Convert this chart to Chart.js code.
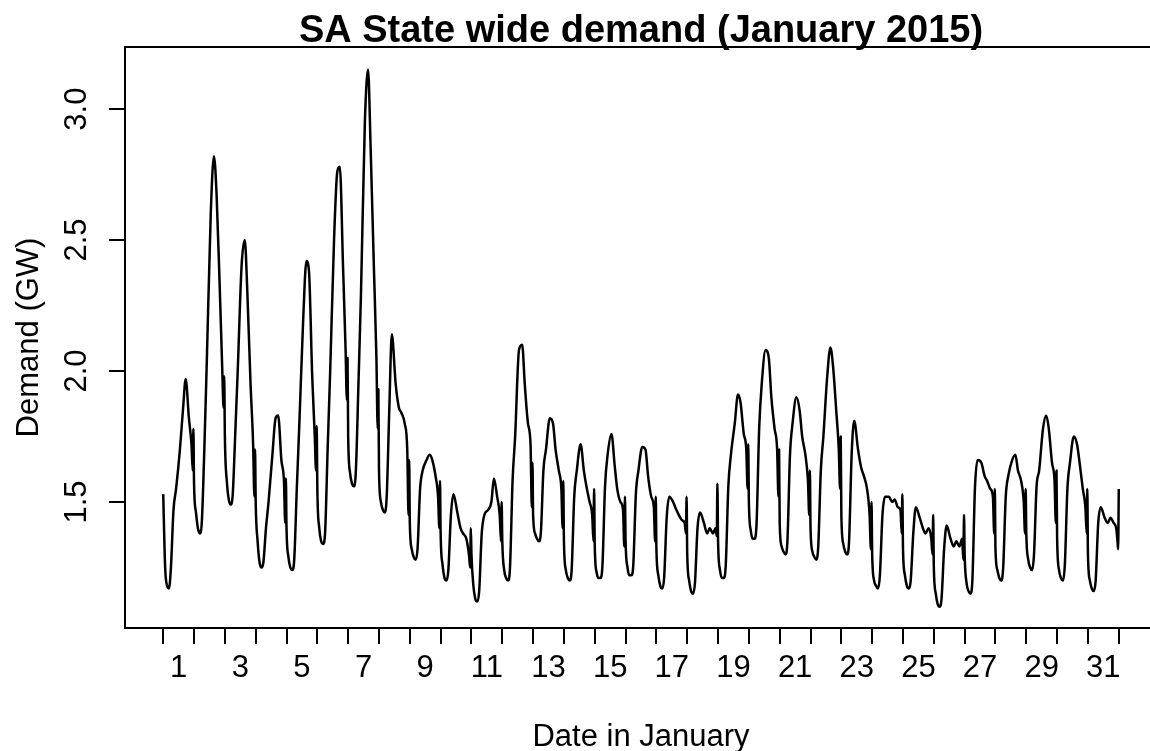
<!DOCTYPE html>
<html>
<head>
<meta charset="utf-8">
<script src="https://cdn.jsdelivr.net/npm/chart.js@4.4.1/dist/chart.umd.min.js"></script>
<style>
  html, body { margin: 0; padding: 0; background: #fff; overflow: hidden; }
  #wrap { position: absolute; left: 0; top: 0; width: 1180px; height: 751px; }
</style>
</head>
<body>
<div id="wrap"><canvas id="demand" width="1180" height="751"></canvas></div>
<script>
const sampleHours = [0, 1.5, 3, 4.5, 6, 8, 10, 13, 15.5, 17.5, 20, 22, 23, 23.5];

// demand (GW), one row per day of January 2015, in sampleHours order
const demand = [
  1.53, 1.25, 1.18, 1.17, 1.25, 1.47, 1.55, 1.70, 1.86, 1.97, 1.82, 1.72, 1.62, 1.78, // 1
  1.57, 1.46, 1.40, 1.38, 1.42, 1.70, 2.05, 2.60, 2.82, 2.68, 2.32, 2.00, 1.86, 1.98, // 2
  1.75, 1.58, 1.51, 1.49, 1.52, 1.75, 2.00, 2.40, 2.50, 2.30, 1.95, 1.72, 1.52, 1.70, // 3
  1.50, 1.35, 1.27, 1.25, 1.27, 1.40, 1.50, 1.68, 1.82, 1.83, 1.66, 1.58, 1.42, 1.59, // 4
  1.40, 1.29, 1.25, 1.24, 1.28, 1.55, 1.80, 2.20, 2.42, 2.38, 1.98, 1.75, 1.62, 1.79, // 5
  1.55, 1.40, 1.35, 1.34, 1.38, 1.70, 2.00, 2.50, 2.76, 2.78, 2.40, 2.08, 1.89, 2.05, // 6
  1.75, 1.61, 1.57, 1.56, 1.62, 1.95, 2.30, 2.95, 3.15, 2.85, 2.40, 2.05, 1.78, 1.93, // 7
  1.62, 1.50, 1.47, 1.46, 1.52, 1.85, 2.14, 1.95, 1.86, 1.84, 1.80, 1.70, 1.45, 1.66, // 8
  1.42, 1.32, 1.29, 1.28, 1.32, 1.55, 1.62, 1.66, 1.68, 1.66, 1.60, 1.52, 1.40, 1.58, // 9
  1.38, 1.26, 1.21, 1.20, 1.24, 1.45, 1.53, 1.46, 1.40, 1.38, 1.36, 1.30, 1.25, 1.40, // 10
  1.30, 1.18, 1.13, 1.12, 1.16, 1.38, 1.45, 1.47, 1.50, 1.59, 1.52, 1.45, 1.35, 1.50, // 11
  1.35, 1.24, 1.21, 1.20, 1.25, 1.58, 1.75, 2.08, 2.10, 1.95, 1.80, 1.72, 1.48, 1.65, // 12
  1.45, 1.38, 1.36, 1.35, 1.38, 1.62, 1.70, 1.82, 1.80, 1.70, 1.62, 1.55, 1.40, 1.58, // 13
  1.35, 1.24, 1.21, 1.20, 1.24, 1.52, 1.62, 1.72, 1.62, 1.56, 1.50, 1.45, 1.35, 1.55, // 14
  1.33, 1.23, 1.21, 1.21, 1.26, 1.56, 1.68, 1.76, 1.64, 1.55, 1.50, 1.47, 1.33, 1.52, // 15
  1.35, 1.25, 1.22, 1.22, 1.26, 1.53, 1.62, 1.71, 1.70, 1.60, 1.52, 1.48, 1.35, 1.52, // 16
  1.32, 1.22, 1.18, 1.17, 1.21, 1.44, 1.52, 1.50, 1.47, 1.45, 1.43, 1.42, 1.38, 1.52, // 17
  1.30, 1.20, 1.16, 1.15, 1.19, 1.40, 1.46, 1.42, 1.38, 1.40, 1.38, 1.40, 1.37, 1.57, // 18
  1.35, 1.24, 1.21, 1.21, 1.26, 1.56, 1.68, 1.80, 1.91, 1.88, 1.76, 1.70, 1.55, 1.72, // 19
  1.50, 1.39, 1.36, 1.36, 1.42, 1.78, 1.95, 2.08, 2.05, 1.90, 1.78, 1.70, 1.52, 1.70, // 20
  1.42, 1.33, 1.31, 1.30, 1.35, 1.68, 1.80, 1.90, 1.85, 1.75, 1.68, 1.58, 1.45, 1.62, // 21
  1.40, 1.31, 1.29, 1.28, 1.33, 1.62, 1.75, 1.98, 2.09, 2.02, 1.85, 1.70, 1.55, 1.75, // 22
  1.45, 1.34, 1.31, 1.30, 1.35, 1.68, 1.81, 1.70, 1.63, 1.60, 1.55, 1.45, 1.32, 1.50, // 23
  1.30, 1.20, 1.18, 1.17, 1.22, 1.45, 1.52, 1.52, 1.50, 1.51, 1.48, 1.47, 1.38, 1.53, // 24
  1.32, 1.22, 1.18, 1.17, 1.20, 1.38, 1.48, 1.44, 1.40, 1.38, 1.40, 1.36, 1.30, 1.45, // 25
  1.25, 1.15, 1.11, 1.10, 1.13, 1.32, 1.41, 1.36, 1.33, 1.35, 1.33, 1.36, 1.28, 1.45, // 26
  1.30, 1.19, 1.16, 1.15, 1.20, 1.55, 1.66, 1.65, 1.60, 1.58, 1.55, 1.52, 1.38, 1.55, // 27
  1.32, 1.24, 1.21, 1.20, 1.25, 1.52, 1.60, 1.66, 1.68, 1.62, 1.58, 1.50, 1.38, 1.55, // 28
  1.38, 1.28, 1.25, 1.24, 1.30, 1.56, 1.62, 1.78, 1.83, 1.78, 1.65, 1.58, 1.42, 1.62, // 29
  1.36, 1.24, 1.21, 1.20, 1.26, 1.55, 1.65, 1.75, 1.72, 1.65, 1.55, 1.48, 1.38, 1.55, // 30
  1.30, 1.20, 1.17, 1.16, 1.20, 1.42, 1.48, 1.44, 1.42, 1.44, 1.42, 1.40, 1.35, 1.32  // 31
];
// reading at midnight 1 February (last point of the series)
const endDemand = 1.55;

const dayLabels = ['1','3','5','7','9','11','13','15','17','19','21','23','25','27','29','31'];
const yTicks = [1.5, 2.0, 2.5, 3.0];

// build the points: x in days since 1 Jan 00:00
const points = [];
for (let d = 0; d < 31; d++) {
  sampleHours.forEach(function(h, i){
    points.push({x: d + h / 24, y: demand[d * sampleHours.length + i]});
  });
}
points.push({x: 31, y: endDemand});

const FONT = '"Liberation Sans", Arial, sans-serif';

// R-style box, ticks and labels
const baseAxes = {
  id: 'baseAxes',
  afterDraw(chart) {
    const ctx = chart.ctx;
    const xs = chart.scales.x, ys = chart.scales.y;
    const a = chart.chartArea;
    ctx.save();
    ctx.strokeStyle = '#000';
    ctx.fillStyle = '#000';
    ctx.lineWidth = 2;
    ctx.strokeRect(a.left, a.top, a.right - a.left, a.bottom - a.top);

    // x ticks at each midnight
    ctx.beginPath();
    for (let d = 0; d <= 31; d++) {
      const px = Math.round(xs.getPixelForValue(d));
      ctx.moveTo(px, a.bottom);
      ctx.lineTo(px, a.bottom + 16);
    }
    // y ticks
    yTicks.forEach(function(v){
      const py = Math.round(ys.getPixelForValue(v));
      ctx.moveTo(a.left, py);
      ctx.lineTo(a.left - 16, py);
    });
    ctx.stroke();

    ctx.font = '31px ' + FONT;
    ctx.textAlign = 'center';
    ctx.textBaseline = 'alphabetic';
    dayLabels.forEach(function(lab){
      const px = xs.getPixelForValue(Number(lab) - 0.5);
      ctx.fillText(lab, px, 677);
    });
    yTicks.forEach(function(v){
      const py = ys.getPixelForValue(v);
      ctx.save();
      ctx.translate(86, py);
      ctx.rotate(-Math.PI / 2);
      ctx.fillText(v.toFixed(1), 0, 0);
      ctx.restore();
    });

    const cx = (a.left + a.right) / 2;
    ctx.fillText('Date in January', cx, 746);
    ctx.save();
    ctx.translate(38, (a.top + a.bottom) / 2);
    ctx.rotate(-Math.PI / 2);
    ctx.fillText('Demand (GW)', 0, 0);
    ctx.restore();

    ctx.font = 'bold 38px ' + FONT;
    ctx.fillText('SA State wide demand (January 2015)', cx, 42);
    ctx.restore();
  }
};

const myChart = new Chart(document.getElementById('demand'), {
  type: 'line',
  data: {
    datasets: [{
      data: points,
      borderColor: '#000',
      borderWidth: 2.5,
      borderJoinStyle: 'round',
      pointRadius: 0,
      cubicInterpolationMode: 'monotone',
      fill: false
    }]
  },
  options: {
    responsive: false,
    animation: false,
    devicePixelRatio: 1,
    layout: { padding: { left: 125, right: 23, top: 47, bottom: 123 } },
    plugins: { legend: { display: false }, tooltip: { enabled: false }, title: { display: false } },
    scales: {
      x: { type: 'linear', min: -1.24, max: 32.24, display: false },
      y: { type: 'linear', min: 1.019, max: 3.237, display: false }
    }
  },
  plugins: [baseAxes]
});
</script>
</body>
</html>
